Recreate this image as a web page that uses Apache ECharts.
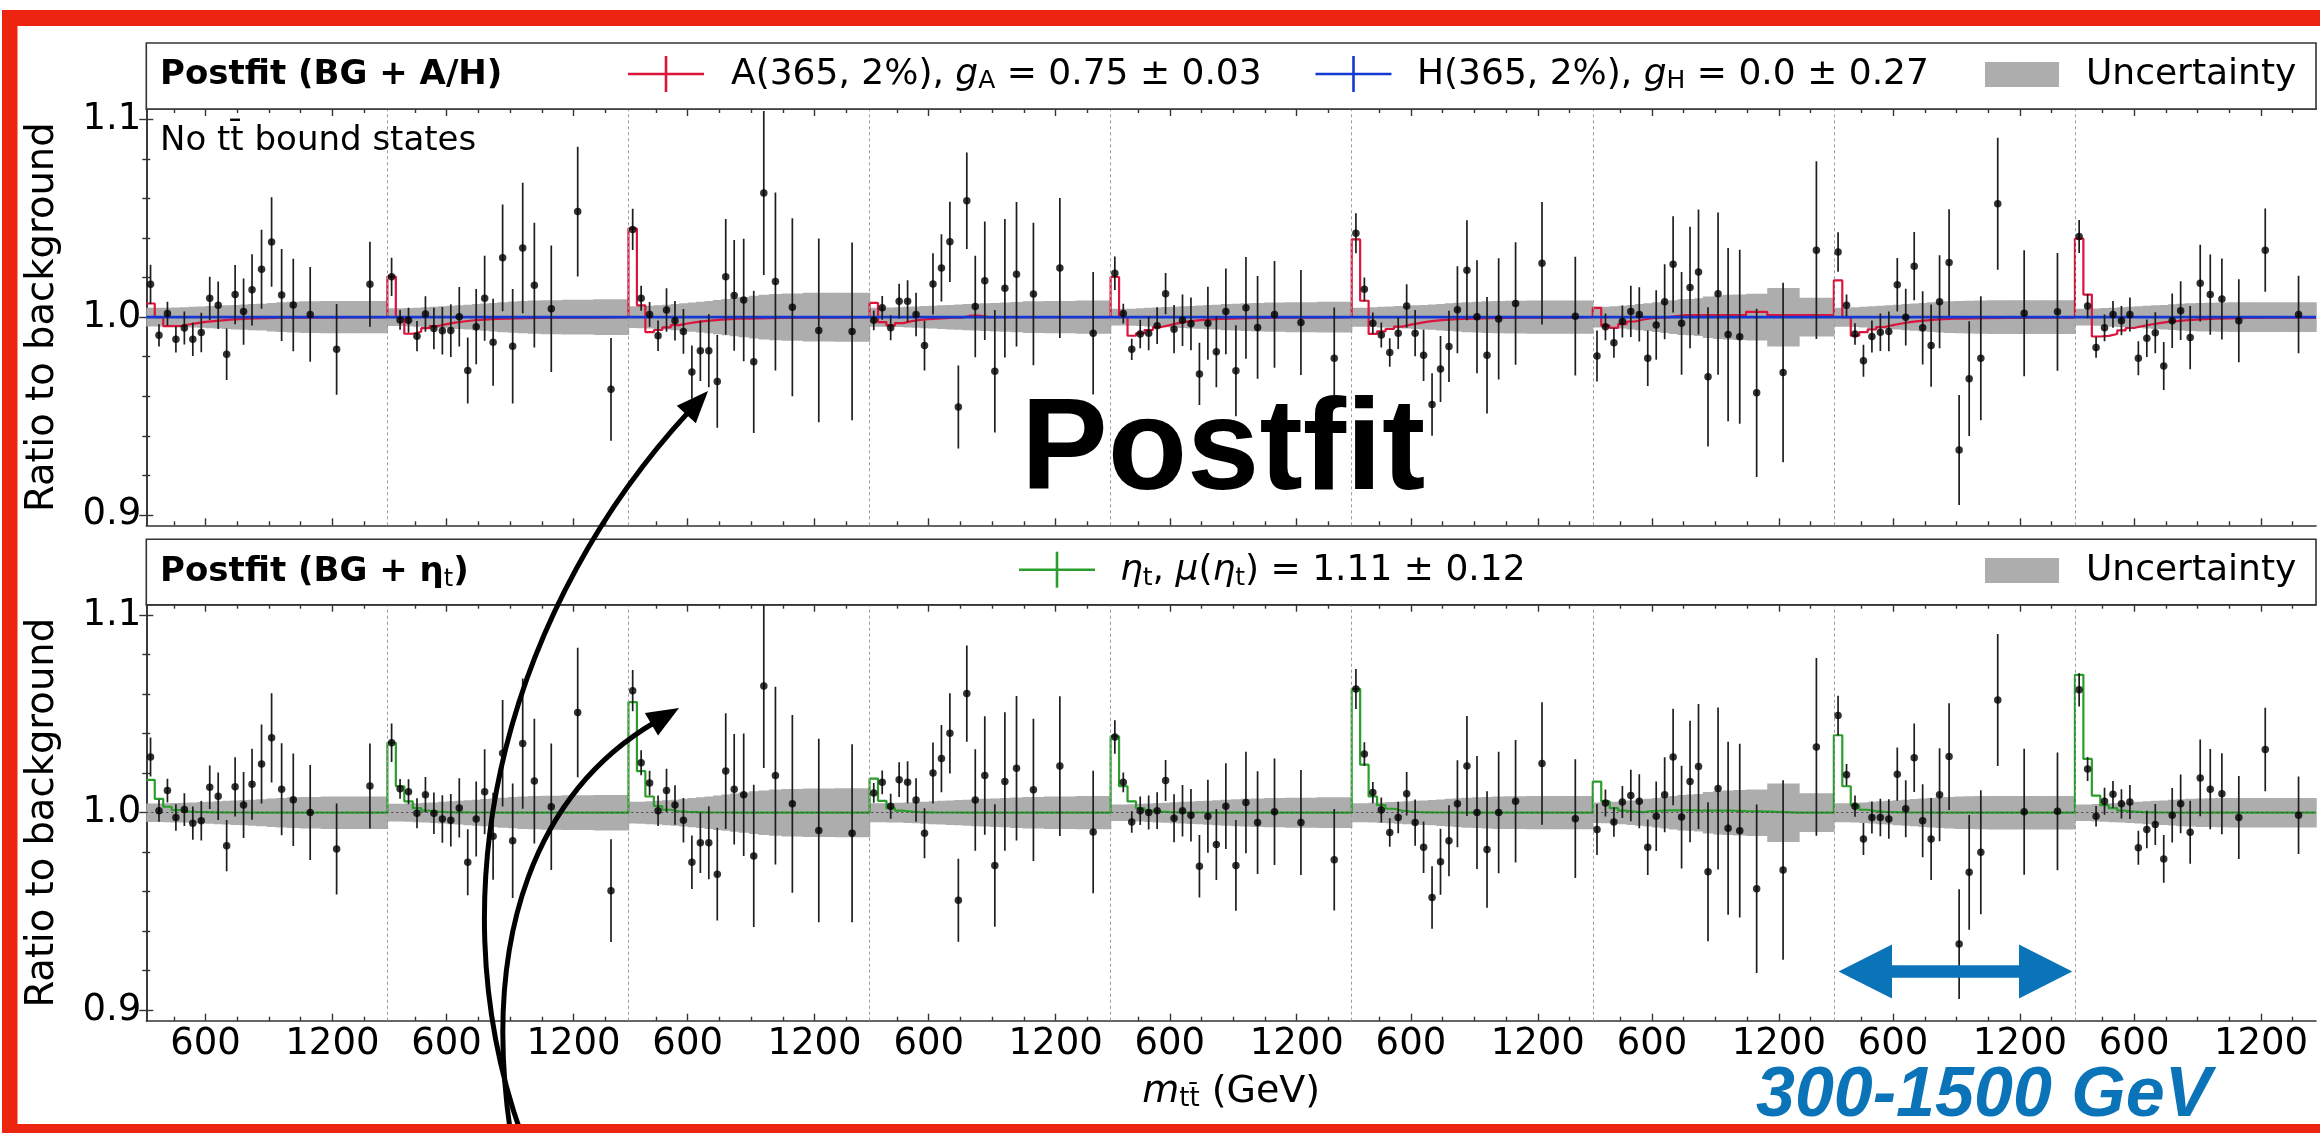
<!DOCTYPE html>
<html><head><meta charset="utf-8">
<script src="https://cdn.jsdelivr.net/npm/echarts@6/dist/echarts.min.js"></script>
<style>html,body{margin:0;padding:0;background:#fff;}#c{width:2320px;height:1133px;}</style>
</head><body><div id="c"></div>
<script>
// ---------------- DATA ----------------
const SEGMENT_COUNT = 9;
const M_LOW = 320, M_HIGH = 1460;
const BIN_EDGES = [320,360,400,440,480,520,560,600,640,680,720,760,800,840,890,935,985,1045,1145,1295,1460];
const X_TICK_MAJOR = [600, 1200];
const X_TICK_MINOR = [450, 750, 900, 1050, 1350];
const Y_TICK_MAJOR = [0.9, 1.0, 1.1];
const Y_TICK_MINOR = [0.92, 0.94, 0.96, 0.98, 1.02, 1.04, 1.06, 1.08];

// data / postfit background, top panel (BG + A/H)
const TOP_RATIO = [
 [1.0166,0.9908,1.0018,0.9888,0.9945,0.9888,0.9922,1.0095,1.0060,0.9812,1.0114,1.0028,1.0138,1.0242,1.0380,1.0112,1.0062,1.0014,0.9837,1.0166],
 [1.0204,0.9986,0.9984,0.9904,1.0016,0.9942,0.9931,0.9932,1.0002,0.9730,0.9952,1.0095,0.9873,1.0300,0.9853,1.0350,1.0162,1.0042,1.0534,0.9635],
 [1.0444,1.0096,1.0014,0.9906,1.0036,0.9982,0.9928,0.9722,0.9830,0.9830,0.9675,1.0204,1.0110,1.0087,0.9774,1.0628,1.0180,1.0050,0.9933,0.9928],
 [0.9984,1.0047,0.9946,1.0081,1.0081,1.0014,0.9856,1.0168,1.0249,1.0381,0.9545,1.0589,1.0054,1.0184,0.9726,1.0146,1.0217,1.0117,1.0249,0.9919],
 [1.0222,1.0018,0.9837,0.9915,0.9919,0.9957,1.0119,0.9939,0.9984,0.9966,0.9713,0.9969,0.9825,1.0029,0.9729,1.0047,0.9948,1.0014,0.9973,0.9792],
 [1.0424,1.0141,0.9969,0.9910,0.9821,0.9919,1.0056,0.9919,0.9807,0.9558,0.9738,0.9852,1.0038,1.0237,1.0002,0.9807,0.9991,1.0069,1.0273,1.0005],
 [0.9803,0.9951,0.9870,0.9978,1.0029,1.0014,0.9792,0.9960,1.0078,1.0267,0.9969,1.0150,1.0228,0.9698,1.0119,0.9912,0.9901,0.9617,0.9720,1.0339],
 [1.0330,1.0060,0.9915,0.9780,0.9902,0.9924,0.9928,1.0164,1.0000,1.0258,0.9946,0.9856,1.0078,1.0276,0.9328,0.9689,0.9792,1.0574,1.0020,1.0027],
 [1.0408,1.0056,0.9847,0.9946,1.0014,0.9982,1.0014,0.9792,0.9893,0.9921,0.9753,0.9982,1.0033,0.9897,1.0172,1.0114,1.0092,0.9982,1.0339,1.0014]
];
// data / postfit background, bottom panel (BG + eta_t)
const BOT_RATIO = [
 [1.0282,1.0010,1.0112,0.9976,1.0016,0.9947,0.9959,1.0129,1.0083,0.9833,1.0131,1.0039,1.0144,1.0246,1.0379,1.0119,1.0066,1.0001,0.9816,1.0135],
 [1.0354,1.0121,1.0106,0.9997,1.0091,0.9997,0.9968,0.9962,1.0024,0.9749,0.9968,1.0106,0.9881,1.0301,0.9858,1.0350,1.0160,1.0030,1.0507,0.9605],
 [1.0618,1.0253,1.0150,1.0010,1.0112,1.0039,0.9962,0.9749,0.9848,0.9848,0.9689,1.0211,1.0119,1.0091,0.9781,1.0641,1.0188,1.0045,0.9910,0.9896],
 [1.0100,1.0154,1.0033,1.0167,1.0154,1.0064,0.9896,1.0201,1.0274,1.0402,0.9557,1.0603,1.0064,1.0188,0.9733,1.0158,1.0225,1.0116,1.0236,0.9902],
 [1.0383,1.0154,0.9953,1.0010,1.0001,1.0010,1.0163,0.9972,1.0010,0.9987,0.9729,0.9982,0.9839,1.0033,0.9733,1.0052,0.9950,1.0005,0.9950,0.9762],
 [1.0626,1.0297,1.0102,1.0014,0.9900,0.9976,1.0096,0.9950,0.9825,0.9571,0.9752,0.9858,1.0045,1.0236,1.0001,0.9814,1.0001,1.0058,1.0249,0.9970],
 [0.9915,1.0049,0.9953,1.0054,1.0087,1.0058,0.9825,0.9982,1.0091,1.0282,0.9978,1.0158,1.0234,0.9701,1.0122,0.9921,0.9909,0.9615,0.9710,1.0333],
 [1.0492,1.0192,1.0033,0.9867,0.9976,0.9976,0.9968,1.0195,1.0020,1.0278,0.9959,0.9867,1.0091,1.0284,0.9335,0.9698,0.9800,1.0571,1.0005,1.0007],
 [1.0622,1.0221,0.9982,1.0058,1.0093,1.0045,1.0054,0.9823,0.9915,0.9940,0.9766,0.9987,1.0045,0.9901,1.0176,1.0119,1.0096,0.9976,1.0320,0.9987]
];
// statistical uncertainty of the data points (half length of error bar)
const DATA_ERR = [
 [0.0099,0.0056,0.0060,0.0067,0.0083,0.0084,0.0100,0.0110,0.0120,0.0130,0.0150,0.0167,0.0180,0.0200,0.0226,0.0233,0.0234,0.0240,0.0230,0.0215],
 [0.0097,0.0050,0.0063,0.0076,0.0090,0.0105,0.0120,0.0133,0.0150,0.0167,0.0190,0.0215,0.0220,0.0270,0.0290,0.0330,0.0316,0.0320,0.0328,0.0260],
 [0.0104,0.0063,0.0063,0.0077,0.0110,0.0100,0.0113,0.0135,0.0153,0.0185,0.0235,0.0293,0.0280,0.0310,0.0360,0.0415,0.0450,0.0450,0.0465,0.0450],
 [0.0050,0.0060,0.0063,0.0088,0.0106,0.0110,0.0126,0.0155,0.0170,0.0203,0.0210,0.0244,0.0257,0.0300,0.0310,0.0350,0.0366,0.0360,0.0354,0.0310],
 [0.0085,0.0050,0.0054,0.0072,0.0086,0.0093,0.0104,0.0122,0.0130,0.0133,0.0158,0.0185,0.0180,0.0217,0.0230,0.0257,0.0260,0.0270,0.0266,0.0257],
 [0.0101,0.0060,0.0054,0.0063,0.0072,0.0080,0.0110,0.0117,0.0130,0.0158,0.0167,0.0180,0.0220,0.0253,0.0286,0.0295,0.0307,0.0310,0.0310,0.0300],
 [0.0129,0.0068,0.0075,0.0081,0.0130,0.0137,0.0140,0.0176,0.0190,0.0244,0.0260,0.0307,0.0316,0.0352,0.0410,0.0438,0.0440,0.0426,0.0454,0.0450],
 [0.0100,0.0054,0.0054,0.0081,0.0081,0.0095,0.0100,0.0135,0.0144,0.0173,0.0185,0.0208,0.0235,0.0270,0.0278,0.0290,0.0314,0.0334,0.0319,0.0298],
 [0.0084,0.0061,0.0052,0.0068,0.0068,0.0074,0.0086,0.0086,0.0095,0.0104,0.0121,0.0138,0.0149,0.0160,0.0194,0.0203,0.0205,0.0210,0.0211,0.0196]
];
// half width of the grey postfit uncertainty band
const BAND_HALF = [
 [0.0047,0.0047,0.0048,0.0049,0.0050,0.0052,0.0054,0.0056,0.0058,0.0060,0.0062,0.0064,0.0066,0.0068,0.0072,0.0075,0.0078,0.0080,0.0082,0.0082],
 [0.0045,0.0045,0.0046,0.0048,0.0050,0.0052,0.0055,0.0058,0.0060,0.0063,0.0066,0.0069,0.0072,0.0076,0.0079,0.0082,0.0084,0.0086,0.0088,0.0090],
 [0.0055,0.0056,0.0058,0.0060,0.0063,0.0066,0.0070,0.0074,0.0078,0.0082,0.0087,0.0092,0.0097,0.0102,0.0108,0.0113,0.0117,0.0120,0.0123,0.0124],
 [0.0048,0.0048,0.0049,0.0050,0.0052,0.0054,0.0056,0.0058,0.0060,0.0062,0.0064,0.0066,0.0068,0.0070,0.0072,0.0074,0.0077,0.0080,0.0082,0.0084],
 [0.0042,0.0042,0.0043,0.0045,0.0047,0.0049,0.0051,0.0053,0.0055,0.0057,0.0059,0.0061,0.0063,0.0066,0.0068,0.0070,0.0072,0.0074,0.0076,0.0078],
 [0.0048,0.0048,0.0050,0.0052,0.0054,0.0056,0.0058,0.0060,0.0062,0.0064,0.0067,0.0070,0.0073,0.0076,0.0078,0.0080,0.0082,0.0083,0.0084,0.0084],
 [0.0052,0.0053,0.0055,0.0058,0.0062,0.0066,0.0070,0.0075,0.0080,0.0085,0.0090,0.0092,0.0095,0.0105,0.0110,0.0113,0.0115,0.0118,0.0148,0.0098],
 [0.0048,0.0048,0.0050,0.0052,0.0055,0.0058,0.0060,0.0063,0.0066,0.0069,0.0072,0.0075,0.0078,0.0080,0.0082,0.0083,0.0084,0.0085,0.0085,0.0085],
 [0.0042,0.0042,0.0044,0.0046,0.0048,0.0050,0.0052,0.0055,0.0058,0.0060,0.0062,0.0065,0.0068,0.0070,0.0072,0.0073,0.0074,0.0075,0.0075,0.0075]
];
// (BG + A)/BG, A(365, 2%), g_A = 0.75
const A_SIGNAL = [
 [1.0069,1.0000,0.9955,0.9955,0.9963,0.9970,0.9976,0.9980,0.9984,0.9987,0.9990,0.9992,0.9994,0.9995,0.9996,0.9997,0.9997,0.9998,0.9999,1.0000],
 [1.0205,1.0000,0.9916,0.9926,0.9944,0.9955,0.9965,0.9972,0.9978,0.9983,0.9986,0.9989,0.9991,0.9993,0.9994,0.9995,0.9996,0.9997,0.9998,1.0000],
 [1.0448,1.0060,0.9924,0.9935,0.9948,0.9960,0.9968,0.9975,0.9980,0.9984,0.9987,0.9990,0.9992,0.9993,0.9994,0.9995,0.9996,0.9997,0.9998,1.0000],
 [1.0072,0.9975,0.9958,0.9970,0.9980,0.9986,0.9990,0.9993,0.9995,0.9997,0.9998,1.0008,1.0008,0.9999,1.0000,1.0000,1.0000,1.0000,1.0000,1.0000],
 [1.0203,1.0000,0.9906,0.9918,0.9935,0.9950,0.9960,0.9970,0.9977,0.9982,0.9986,0.9989,0.9991,0.9993,0.9994,0.9995,0.9996,0.9997,0.9998,1.0000],
 [1.0393,1.0083,0.9915,0.9928,0.9940,0.9952,0.9962,0.9970,0.9977,0.9982,0.9986,0.9989,0.9991,0.9993,0.9994,0.9995,0.9996,0.9997,0.9998,1.0000],
 [1.0047,0.9957,0.9946,0.9965,0.9978,0.9988,0.9995,0.9998,1.0000,1.0005,1.0010,1.0010,1.0010,1.0010,1.0010,1.0010,1.0010,1.0027,1.0010,1.0010],
 [1.0186,1.0000,0.9906,0.9924,0.9938,0.9950,0.9960,0.9968,0.9975,0.9980,0.9984,0.9987,0.9990,0.9992,0.9993,0.9994,0.9995,0.9996,0.9997,0.9998],
 [1.0397,1.0114,0.9902,0.9905,0.9915,0.9933,0.9945,0.9955,0.9963,0.9970,0.9976,0.9980,0.9984,0.9987,0.9990,0.9992,0.9994,0.9996,0.9997,0.9998]
];
// (BG + H)/BG, H(365, 2%), g_H = 0.0
const H_SIGNAL = 1.0;
// (BG + eta_t)/BG, mu = 1.11
const ETA_SIGNAL = [
 [1.0166,1.0070,1.0030,1.0013,1.0006,1.0004,1.0003,1.0002,1.0002,1.0001,1.0001,1.0001,1.0000,1.0000,1.0000,1.0000,1.0000,1.0000,1.0000,1.0000],
 [1.0354,1.0134,1.0057,1.0023,1.0010,1.0005,1.0003,1.0002,1.0002,1.0001,1.0001,1.0001,1.0000,1.0000,1.0000,1.0000,1.0000,1.0000,1.0000,1.0000],
 [1.0560,1.0210,1.0082,1.0034,1.0015,1.0007,1.0004,1.0003,1.0002,1.0001,1.0001,1.0001,1.0000,1.0000,1.0000,1.0000,1.0000,1.0000,1.0000,1.0000],
 [1.0172,1.0060,1.0023,1.0010,1.0005,1.0003,1.0002,1.0001,1.0001,1.0001,1.0000,1.0000,1.0000,1.0000,1.0000,1.0000,1.0000,1.0000,1.0000,1.0000],
 [1.0386,1.0134,1.0057,1.0023,1.0010,1.0005,1.0003,1.0002,1.0001,1.0001,1.0001,1.0000,1.0000,1.0000,1.0000,1.0000,1.0000,1.0000,1.0000,1.0000],
 [1.0627,1.0243,1.0082,1.0038,1.0020,1.0010,1.0005,1.0003,1.0002,1.0001,1.0001,1.0001,1.0000,1.0000,1.0000,1.0000,1.0000,1.0000,1.0000,1.0000],
 [1.0157,1.0057,1.0023,1.0010,1.0005,1.0003,1.0008,1.0010,1.0012,1.0012,1.0012,1.0012,1.0010,1.0010,1.0010,1.0010,1.0008,1.0005,1.0000,1.0000],
 [1.0392,1.0134,1.0038,1.0015,1.0008,1.0004,1.0003,1.0002,1.0001,1.0001,1.0001,1.0000,1.0000,1.0000,1.0000,1.0000,1.0000,1.0000,1.0000,1.0000],
 [1.0698,1.0272,1.0086,1.0038,1.0023,1.0010,1.0005,1.0003,1.0002,1.0001,1.0001,1.0001,1.0000,1.0000,1.0000,1.0000,1.0000,1.0000,1.0000,1.0000]
];

// ---------------- LAYOUT / STYLE ----------------
const PLOT_L = 146.3, PLOT_R = 2316;
const P1_TOP = 109, P1_BOT = 525.3;
const P2_TOP = 604.7, P2_BOT = 1020.7;
const Y_MIN = 0.8947, Y_MAX = 1.1053;
const FONT = 'DejaVu Sans';
const AXC = '#333';
const RED = '#dc143c', BLUE = '#1438d2', GREEN = '#2a9e2a', BAND = '#adadad';
const FRAME_RED = '#ec2410', ANN_BLUE = '#0b74b8';
const TICK_FS = 37;

const SPAN = M_HIGH - M_LOW;
const XMAX = SEGMENT_COUNT * SPAN;
const xOf = (k, m) => k * SPAN + (m - M_LOW);
const perSeg = list => { const o = []; for (let k = 0; k < SEGMENT_COUNT; k++) list.forEach(m => o.push(xOf(k, m))); return o; };
const MAJ_X = perSeg(X_TICK_MAJOR), MIN_X = perSeg(X_TICK_MINOR);
const CENTERS = BIN_EDGES.slice(0, -1).map((e, i) => (e + BIN_EDGES[i + 1]) / 2);

function pointData(vals) { const o = []; for (let k = 0; k < SEGMENT_COUNT; k++) for (let i = 0; i < CENTERS.length; i++) o.push([xOf(k, CENTERS[i]), vals[k][i], DATA_ERR[k][i]]); return o; }
function stepData(vals) { const o = []; for (let k = 0; k < SEGMENT_COUNT; k++) for (let i = 0; i < CENTERS.length; i++) o.push([xOf(k, BIN_EDGES[i]), vals[k][i]]); o.push([XMAX, vals[SEGMENT_COUNT - 1][CENTERS.length - 1]]); return o; }
function constStep(v) { const o = []; for (let k = 0; k < SEGMENT_COUNT; k++) for (let i = 0; i < CENTERS.length; i++) o.push([xOf(k, BIN_EDGES[i]), v]); o.push([XMAX, v]); return o; }
function bandData() { const o = []; for (let k = 0; k < SEGMENT_COUNT; k++) for (let i = 0; i < CENTERS.length; i++) o.push([xOf(k, BIN_EDGES[i]), xOf(k, BIN_EDGES[i + 1]), BAND_HALF[k][i]]); return o; }

const xLabelFmt = v => String(Math.round(((v % SPAN) + SPAN) % SPAN + M_LOW));

function xAxes(g, withLabels) {
  const base = { gridIndex: g, type: 'value', min: 0, max: XMAX, splitLine: { show: false } };
  const tickStyle = { color: AXC, width: 1.4 };
  const ax = [
    Object.assign({}, base, { position: 'bottom', axisLine: { show: true, onZero: false, lineStyle: { color: AXC, width: 1.6 } },
      axisTick: { show: true, inside: true, length: 7, customValues: MAJ_X, lineStyle: tickStyle },
      axisLabel: { show: withLabels, customValues: MAJ_X, formatter: xLabelFmt, fontSize: TICK_FS, fontFamily: FONT, color: '#000', margin: 5 } }),
    Object.assign({}, base, { position: 'bottom', axisLine: { show: false, onZero: false },
      axisTick: { show: true, inside: true, length: 4, customValues: MIN_X, lineStyle: tickStyle }, axisLabel: { show: false } }),
    Object.assign({}, base, { position: 'top', axisLine: { show: true, onZero: false, lineStyle: { color: AXC, width: 1.6 } },
      axisTick: { show: true, inside: true, length: 7, customValues: MAJ_X, lineStyle: tickStyle }, axisLabel: { show: false } }),
    Object.assign({}, base, { position: 'top', axisLine: { show: false, onZero: false },
      axisTick: { show: true, inside: true, length: 4, customValues: MIN_X, lineStyle: tickStyle }, axisLabel: { show: false } })
  ];
  if (withLabels) {
    ax[0].name = '{i|m}{s|tt\u0304}{n| (GeV)}';
    ax[0].nameLocation = 'middle';
    ax[0].nameGap = 50;
    ax[0].nameTextStyle = { fontFamily: FONT, fontSize: 38, color: '#000',
      rich: { i: { fontFamily: FONT, fontSize: 38, fontStyle: 'italic', lineHeight: 42 },
              n: { fontFamily: FONT, fontSize: 38, lineHeight: 42 },
              s: { fontFamily: FONT, fontSize: 26, lineHeight: 25, verticalAlign: 'bottom' } } };
  }
  return ax;
}
function yAxes(g) {
  const base = { gridIndex: g, type: 'value', min: Y_MIN, max: Y_MAX, splitLine: { show: false } };
  const tickStyle = { color: AXC, width: 1.4 };
  return [
    Object.assign({}, base, { position: 'left', axisLine: { show: true, lineStyle: { color: AXC, width: 1.6 } },
      axisTick: { show: true, inside: true, length: 7, customValues: Y_TICK_MAJOR, lineStyle: tickStyle },
      axisLabel: { show: true, customValues: Y_TICK_MAJOR, formatter: v => v.toFixed(1), fontSize: TICK_FS, fontFamily: FONT, color: '#000', margin: 5 },
      name: 'Ratio to background', nameLocation: 'middle', nameGap: 84, nameRotate: 90,
      nameTextStyle: { fontFamily: FONT, fontSize: 38.5, color: '#000' } }),
    Object.assign({}, base, { position: 'left', axisLine: { show: false },
      axisTick: { show: true, inside: true, length: 4, customValues: Y_TICK_MINOR, lineStyle: tickStyle }, axisLabel: { show: false } }),
    Object.assign({}, base, { position: 'right', axisLine: { show: true, lineStyle: { color: AXC, width: 1.6 } },
      axisTick: { show: true, inside: true, length: 7, customValues: Y_TICK_MAJOR, lineStyle: tickStyle }, axisLabel: { show: false } }),
    Object.assign({}, base, { position: 'right', axisLine: { show: false },
      axisTick: { show: true, inside: true, length: 4, customValues: Y_TICK_MINOR, lineStyle: tickStyle }, axisLabel: { show: false } })
  ];
}

function bandSeries(xi, yi, extraMark) {
  return { type: 'custom', xAxisIndex: xi, yAxisIndex: yi, z: 1, clip: true, silent: true,
    renderItem: (p, api) => {
      const a = api.coord([api.value(0), 1 + api.value(2)]);
      const b = api.coord([api.value(1), 1 - api.value(2)]);
      return { type: 'rect', shape: { x: a[0], y: a[1], width: b[0] - a[0] + 0.7, height: b[1] - a[1] }, style: { fill: BAND } };
    },
    encode: { x: [0, 1] }, data: bandData(),
    markLine: { silent: true, symbol: 'none', animation: false, label: { show: false },
      lineStyle: { type: [3, 3], color: '#9a9a9a', width: 1 },
      data: [1,2,3,4,5,6,7,8].map(k => ({ xAxis: k * SPAN })).concat(extraMark || []) } };
}
function stepSeries(xi, yi, data, color, width, z) {
  return { type: 'line', xAxisIndex: xi, yAxisIndex: yi, step: 'end', data: data, showSymbol: false, symbol: 'none',
    lineStyle: { color: color, width: width }, z: z, silent: true };
}
function errSeries(xi, yi, data) {
  return { type: 'custom', xAxisIndex: xi, yAxisIndex: yi, z: 6, clip: true, silent: true,
    renderItem: (p, api) => {
      const x = api.value(0), y = api.value(1), e = api.value(2);
      const a = api.coord([x, y - e]), b = api.coord([x, y + e]);
      return { type: 'line', shape: { x1: a[0], y1: a[1], x2: b[0], y2: b[1] }, style: { stroke: '#1e1e1e', lineWidth: 1.7 } };
    }, encode: { x: 0, y: 1 }, data: data };
}
function dotSeries(xi, yi, data) {
  return { type: 'scatter', xAxisIndex: xi, yAxisIndex: yi, z: 7, symbol: 'circle', symbolSize: 7.5,
    itemStyle: { color: '#000' }, data: data.map(d => [d[0], d[1]]), silent: true };
}

const topPts = pointData(TOP_RATIO), botPts = pointData(BOT_RATIO);

// ---------------- GRAPHICS (legends, annotations) ----------------
const rich = {
  t: { fontFamily: FONT, fontSize: 36, lineHeight: 40, color: '#000' },
  ti: { fontFamily: FONT, fontSize: 36, lineHeight: 40, fontStyle: 'italic', color: '#000' },
  s: { fontFamily: FONT, fontSize: 25, lineHeight: 24, verticalAlign: 'bottom', color: '#000' },
  b: { fontFamily: FONT, fontSize: 34, lineHeight: 40, fontWeight: 'bold', color: '#000' },
  sb: { fontFamily: FONT, fontSize: 24, lineHeight: 23, verticalAlign: 'bottom', color: '#000' }
};
function txt(x, y, text, extra) {
  return Object.assign({ type: 'text', x: x, y: y, z: 50, silent: true,
    style: { text: text, rich: rich, align: 'left', verticalAlign: 'middle', fill: '#000', font: '36px "DejaVu Sans"' } }, extra || {});
}
function cross(cx, cy, color) {
  return [
    { type: 'line', z: 50, shape: { x1: cx - 38, y1: cy, x2: cx + 38, y2: cy }, style: { stroke: color, lineWidth: 2.6 } },
    { type: 'line', z: 50, shape: { x1: cx, y1: cy - 18, x2: cx, y2: cy + 18 }, style: { stroke: color, lineWidth: 2.6 } }
  ];
}
function arrow(p0, c1, c2, tip, headLen, headHalf, lw) {
  const dx = tip[0] - c2[0], dy = tip[1] - c2[1], L = Math.hypot(dx, dy);
  const ux = dx / L, uy = dy / L, px = -uy, py = ux;
  const end = [tip[0] - ux * (headLen - 4), tip[1] - uy * (headLen - 4)];
  const base = [tip[0] - ux * headLen, tip[1] - uy * headLen];
  return [
    { type: 'bezierCurve', z: 60, shape: { x1: p0[0], y1: p0[1], cpx1: c1[0], cpy1: c1[1], cpx2: c2[0], cpy2: c2[1], x2: end[0], y2: end[1] },
      style: { stroke: '#000', lineWidth: lw, fill: null } },
    { type: 'polygon', z: 61, shape: { points: [tip, [base[0] + px * headHalf, base[1] + py * headHalf], [base[0] - px * headHalf, base[1] - py * headHalf]] },
      style: { fill: '#000' } }
  ];
}
const L2 = 496.3; // vertical offset of lower legend row
const graphics = [
  // red frame
  { type: 'rect', z: 80, shape: { x: 2, y: 10, width: 2318, height: 16 }, style: { fill: FRAME_RED } },
  { type: 'rect', z: 80, shape: { x: 2, y: 10, width: 15.5, height: 1123 }, style: { fill: FRAME_RED } },
  { type: 'rect', z: 80, shape: { x: 2, y: 1124, width: 2318, height: 9 }, style: { fill: FRAME_RED } },
  // legend boxes
  { type: 'rect', z: 40, shape: { x: PLOT_L, y: 43, width: PLOT_R - PLOT_L, height: P1_TOP - 43 }, style: { fill: '#fff', stroke: AXC, lineWidth: 1.6 } },
  { type: 'rect', z: 40, shape: { x: PLOT_L, y: 539.3, width: PLOT_R - PLOT_L, height: P2_TOP - 539.3 }, style: { fill: '#fff', stroke: AXC, lineWidth: 1.6 } },
  txt(160, 75.5, '{b|Postfit (BG + A/H)}'),
  ...cross(666, 74, RED),
  txt(731, 74.3, '{t|A(365, 2%), }{ti|g}{s|A}{t| = 0.75 \u00b1 0.03}'),
  ...cross(1353.5, 74, BLUE),
  txt(1417, 74.3, '{t|H(365, 2%), }{ti|g}{s|H}{t| = 0.0 \u00b1 0.27}'),
  { type: 'rect', z: 50, shape: { x: 1985, y: 62, width: 74, height: 25 }, style: { fill: BAND } },
  txt(2086, 74.3, '{t|Uncertainty}'),
  txt(160, 75.5 + L2, '{b|Postfit (BG + \u03b7}{sb|t}{b|)}'),
  ...cross(1057, 569.7, GREEN),
  txt(1120, 74.3 + L2, '{ti|\u03b7}{s|t}{t|, }{ti|\u03bc}{t|(}{ti|\u03b7}{s|t}{t|) = 1.11 \u00b1 0.12}'),
  { type: 'rect', z: 50, shape: { x: 1985, y: 558, width: 74, height: 25 }, style: { fill: BAND } },
  txt(2086, 74.3 + L2, '{t|Uncertainty}'),
  // in-plot annotation
  txt(160, 141.5, '{n|No tt\u0304 bound states}', { style: { text: '{n|No tt\u0304 bound states}', rich: { n: { fontFamily: FONT, fontSize: 34, color: '#000' } }, align: 'left', verticalAlign: 'middle' } }),
  // overlay annotations
  { type: 'text', z: 70, x: 1021, y: 453, silent: true, style: { text: 'Postfit', font: 'bold 130px "Liberation Sans"', fill: '#000', align: 'left', verticalAlign: 'middle' } },
  ...arrow([522, 1136], [430, 880], [515, 600], [708, 391], 32, 13, 5),
  ...arrow([511, 1136], [480, 930], [540, 790], [679, 708], 32, 13, 5),
  { type: 'polygon', z: 70, shape: { points: [[1838.5, 971.5], [1892, 944.5], [1892, 965.3], [2019, 965.3], [2019, 944.5], [2072.3, 971.5], [2019, 998.5], [2019, 977.7], [1892, 977.7], [1892, 998.5]] }, style: { fill: ANN_BLUE } },
  { type: 'text', z: 70, x: 1756, y: 1096.4, silent: true, style: { text: '300-1500 GeV', font: 'italic bold 70px "Liberation Sans"', fill: ANN_BLUE, align: 'left', verticalAlign: 'middle' } }
];

const option = {
  animation: false,
  backgroundColor: '#fff',
  grid: [
    { left: PLOT_L, top: P1_TOP, width: PLOT_R - PLOT_L, height: P1_BOT - P1_TOP, containLabel: false },
    { left: PLOT_L, top: P2_TOP, width: PLOT_R - PLOT_L, height: P2_BOT - P2_TOP, containLabel: false }
  ],
  xAxis: xAxes(0, false).concat(xAxes(1, true)),
  yAxis: yAxes(0).concat(yAxes(1)),
  series: [
    bandSeries(0, 0),
    stepSeries(0, 0, stepData(A_SIGNAL), RED, 2.2, 3),
    stepSeries(0, 0, constStep(H_SIGNAL), BLUE, 2.6, 4),
    errSeries(0, 0, topPts),
    dotSeries(0, 0, topPts),
    bandSeries(4, 4, [{ yAxis: 1.0, lineStyle: { type: [2, 3], color: '#444', width: 1.2 } }]),
    stepSeries(4, 4, stepData(ETA_SIGNAL), GREEN, 2.2, 3),
    errSeries(4, 4, botPts),
    dotSeries(4, 4, botPts)
  ],
  graphic: graphics
};
const chart = echarts.init(document.getElementById('c'), null, { renderer: 'canvas', width: 2320, height: 1133 });
chart.setOption(option);
</script></body></html>
